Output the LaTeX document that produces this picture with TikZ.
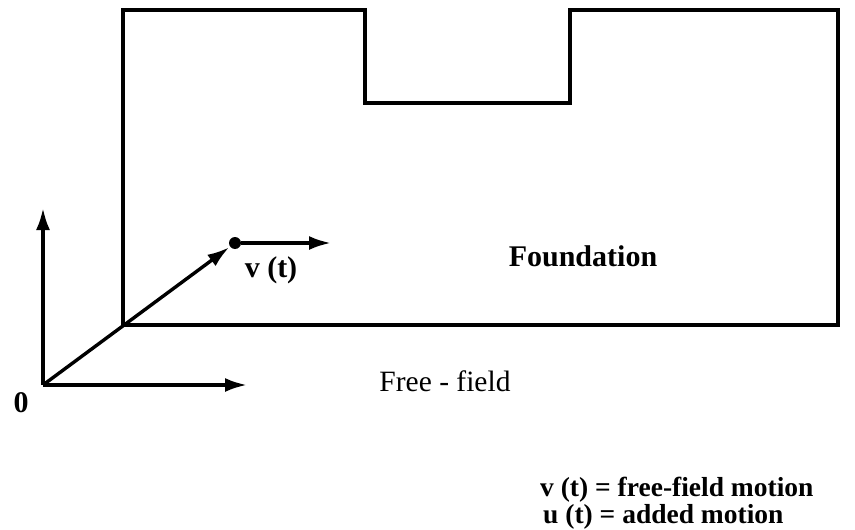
\documentclass[tikz,border=0pt]{standalone}
\usepackage{fontspec}
\setmainfont{Liberation Serif}
\usetikzlibrary{arrows.meta,positioning}
\tikzstyle{wall} = [
    line width=3.6pt,
    draw=black
]
\tikzstyle{arrow} = [
    -{Latex[length=22pt,width=14pt]},
    line width=3.4pt
]
\tikzstyle{lbl} = [
    font=\fontsize{30}{33}\selectfont\bfseries,
    inner sep=0pt
]
\tikzstyle{legend} = [
    font=\fontsize{27.5}{30}\selectfont\bfseries,
    inner sep=0pt,
    anchor=base west
]

\begin{document}
\begin{tikzpicture}[x=1pt, y=-1pt]
    \useasboundingbox (0,0) rectangle (855,530);

    % Foundation outline with notch
    \draw[wall] (123,10) -- (365,10) -- (365,103) -- (570,103) -- (570,10)
        -- (838,10) -- (838,325) -- (123,325) -- cycle;
    \coordinate (corner) at (123,325);

    % Axes
    \coordinate (O) at (43,385);
    \coordinate (up) at (43,208);
    \coordinate (right) at (247,385);
    \draw[arrow] (O) -- (up);
    \draw[arrow] (O) -- (right);
    \node[lbl] (zero) at (21,403) {0};

    % Motion point
    \node[circle, fill=black, inner sep=0pt, minimum size=12pt] (pt) at (235,243) {};
    \coordinate (vtip) at (331,243);
    \draw[arrow, shorten >=1pt] (O) -- (pt);
    \draw[arrow] (pt) -- (vtip);
    \node[lbl] (vt) at (271,270) {v (t)};

    % Labels
    \node[lbl] (found) at (583,256) {Foundation};
    \node[font=\fontsize{29.5}{33}\selectfont, inner sep=0pt] (ff) at (445,381) {Free - field};

    % Legend
    \node[legend] (leg1) at (540,496) {v (t) = free-field motion};
    \node[legend] (leg2) at (543,523) {u (t) = added motion};
\end{tikzpicture}
\end{document}
